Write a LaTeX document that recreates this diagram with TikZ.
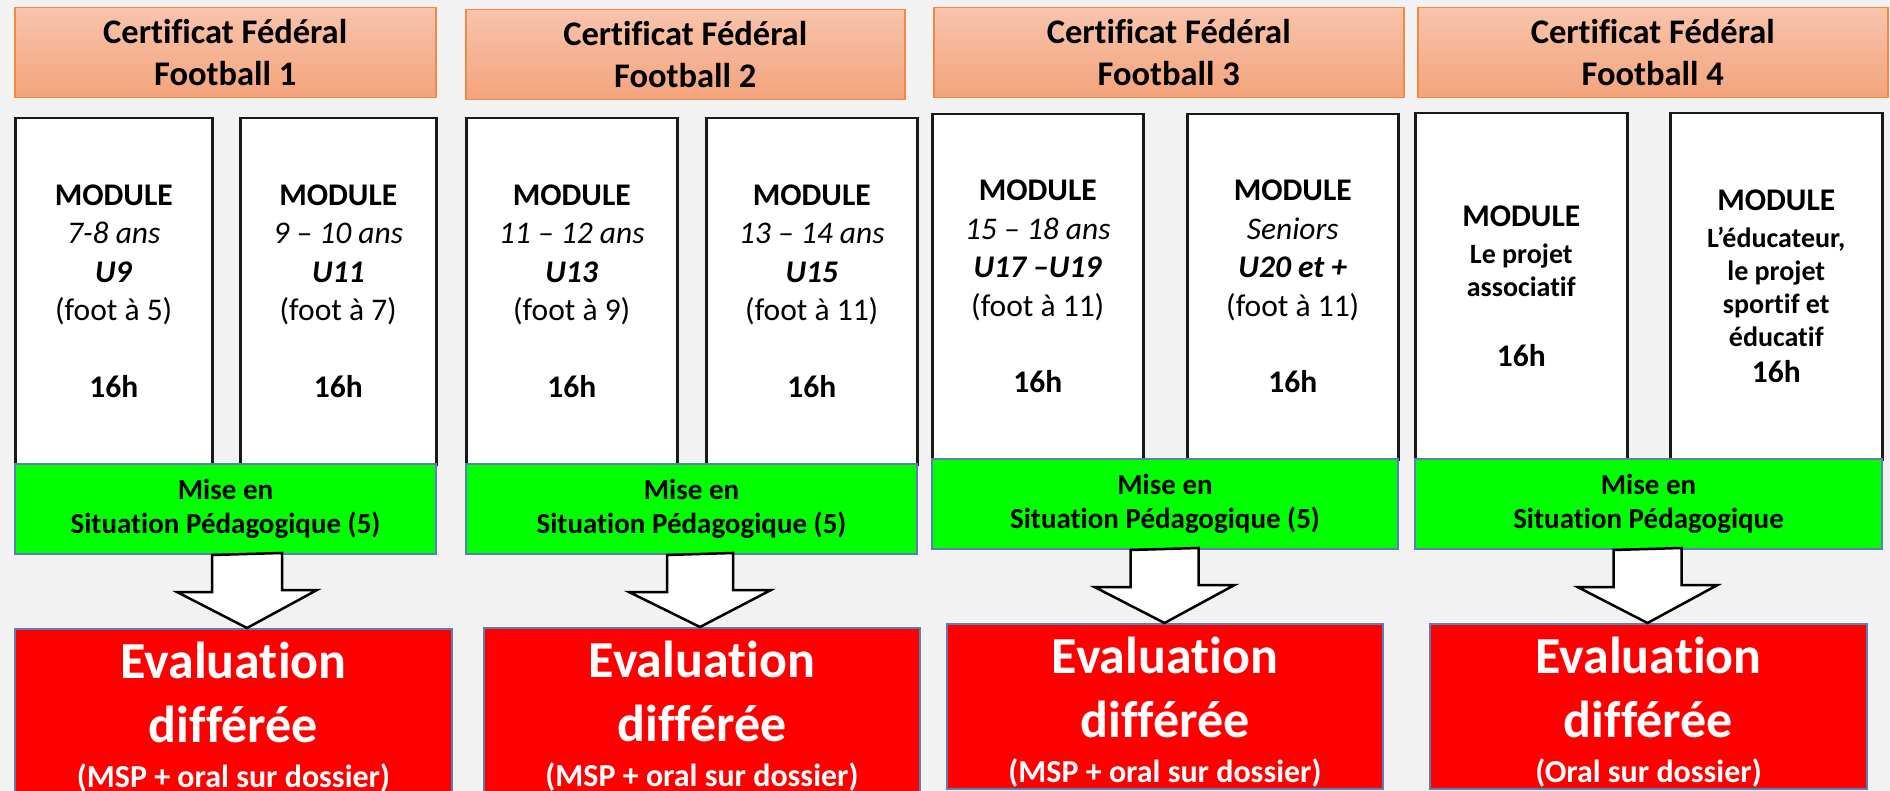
\documentclass[tikz,border=0pt]{standalone}
\usepackage{fontspec}
\setmainfont{Carlito}[Ligatures=NoCommon]
\usepackage{tikz}
\usetikzlibrary{positioning, calc}
\definecolor{fondColor}{HTML}{F2F2F2}
\definecolor{peachTopColor}{HTML}{F8C4AC}
\definecolor{peachBottomColor}{HTML}{F3A37B}
\definecolor{orangeLineColor}{HTML}{F08A42}
\definecolor{blueLineColor}{HTML}{5A7FB4}
\definecolor{mspGreenColor}{HTML}{00FF00}
\definecolor{evalRedColor}{HTML}{FF0000}
\tikzset{
  boite/.style = {rectangle, anchor=north west, inner sep=0pt, align=center},
  cffNode/.style = {boite, top color=peachTopColor, bottom color=peachBottomColor, draw=orangeLineColor, line width=1.5pt,
    minimum height=90pt, font=\bfseries\fontsize{34.5}{42}\selectfont},% titre du certificat
  moduleNode/.style = {boite, fill=white, draw=black!90, line width=2.5pt, font=\fontsize{31.5}{38.5}\selectfont},% module de 16h
  mspNode/.style = {boite, fill=mspGreenColor, draw=blueLineColor, line width=2pt, minimum height=90pt,
    font=\bfseries\fontsize{29}{34}\selectfont},% mise en situation
  evalNode/.style = {boite, fill=evalRedColor, draw=blueLineColor, line width=2pt, minimum height=165pt, text=white,
    font=\bfseries\fontsize{52}{64}\selectfont},% evaluation differee
  flecheBas/.style = {draw=black, fill=white, line width=2.5pt, line join=miter},% grosse fleche
}
\newcommand{\sousTitre}[1]{{\bfseries\fontsize{28}{32}\selectfont #1}}

\begin{document}
\begin{tikzpicture}[x=1pt, y=-1pt]
\useasboundingbox (0,0) rectangle (1890,791);
\fill[fondColor] (0,0) rectangle (1890,791);

% Football 1
\node[cffNode, minimum width=421pt] (cff1) at (14,7) {Certificat Fédéral\\Football 1};
\node[moduleNode, minimum width=197pt, minimum height=346pt] (mod1a) at (14,117)
  {\textbf{MODULE}\\ \textit{7-8 ans}\\ \textbf{\textit{U9}}\\ (foot à 5)\\[38pt] \textbf{16h}};
\node[moduleNode, minimum width=196pt, minimum height=346pt] (mod1b) at (239,117)
  {\textbf{MODULE}\\ \textit{9 – 10 ans}\\ \textbf{\textit{U11}}\\ (foot à 7)\\[38pt] \textbf{16h}};
\node[mspNode, minimum width=421pt] (msp1) at (14,463) {Mise en\\Situation Pédagogique (5)};
\node[evalNode, minimum width=437pt] (eval1) at (14,628)
  {\rule{0pt}{47pt}Evaluation\\différée\\[-19pt] {\fontsize{32}{34}\selectfont (MSP + oral sur dossier)}};

% Football 2
\node[cffNode, minimum width=439pt] (cff2) at (465,9) {Certificat Fédéral\\Football 2};
\node[moduleNode, minimum width=211pt, minimum height=346pt] (mod2a) at (465,117)
  {\textbf{MODULE}\\ \textit{11 – 12 ans}\\ \textbf{\textit{U13}}\\ (foot à 9)\\[38pt] \textbf{16h}};
\node[moduleNode, minimum width=211pt, minimum height=346pt] (mod2b) at (705,117)
  {\textbf{MODULE}\\ \textit{13 – 14 ans}\\ \textbf{\textit{U15}}\\ (foot à 11)\\[38pt] \textbf{16h}};
\node[mspNode, minimum width=451pt] (msp2) at (465,463) {Mise en\\Situation Pédagogique (5)};
\node[evalNode, minimum width=436pt] (eval2) at (483,627)
  {\rule{0pt}{47pt}Evaluation\\différée\\[-19pt] {\fontsize{32}{34}\selectfont (MSP + oral sur dossier)}};

% Football 3
\node[cffNode, minimum width=470pt] (cff3) at (933,7) {Certificat Fédéral\\Football 3};
\node[moduleNode, minimum width=211pt, minimum height=345pt] (mod3a) at (931,113)
  {\textbf{MODULE}\\ \textit{15 – 18 ans}\\ \textbf{\textit{U17 –U19}}\\ (foot à 11)\\[38pt] \textbf{16h}};
\node[moduleNode, minimum width=211pt, minimum height=345pt] (mod3b) at (1186,113)
  {\textbf{MODULE}\\ \textit{Seniors}\\ \textbf{\textit{U20 et +}}\\ (foot à 11)\\[38pt] \textbf{16h}};
\node[mspNode, minimum width=466pt] (msp3) at (931,458) {Mise en\\Situation Pédagogique (5)};
\node[evalNode, minimum width=436pt] (eval3) at (946,623)
  {\rule{0pt}{47pt}Evaluation\\différée\\[-19pt] {\fontsize{32}{34}\selectfont (MSP + oral sur dossier)}};

% Football 4
\node[cffNode, minimum width=470pt] (cff4) at (1417,7) {Certificat Fédéral\\Football 4};
\node[moduleNode, minimum width=212pt, minimum height=346pt, font=\fontsize{31.5}{33}\selectfont] (mod4a) at (1414,112)
  {\textbf{MODULE}\\[4pt] \sousTitre{Le projet}\\ \sousTitre{associatif}\\[37pt] \textbf{16h}};
\node[moduleNode, minimum width=212pt, minimum height=346pt, font=\fontsize{31.5}{33}\selectfont] (mod4b) at (1669,112)
  {\textbf{MODULE}\\[4pt] \sousTitre{L’éducateur,}\\ \sousTitre{le projet}\\ \sousTitre{sportif et}\\ \sousTitre{éducatif}\\[3pt] \textbf{16h}};
\node[mspNode, minimum width=467pt] (msp4) at (1414,458) {Mise en\\Situation Pédagogique};
\node[evalNode, minimum width=437pt] (eval4) at (1429,623)
  {\rule{0pt}{47pt}Evaluation\\différée\\[-19pt] {\fontsize{32}{34}\selectfont (Oral sur dossier)}};

% fleches
\coordinate (f1) at (247,0);
\coordinate (f2) at (700,0);
\coordinate (f3) at (1164.5,0);
\coordinate (f4) at (1647.5,0);
\draw[flecheBas] (msp1.south -| f1) ++(-35,0) -- ++(0,37) -- ++(-35,0) -- (eval1.north -| f1) -- ++(70,-38) -- ++(-35,0) -- ++(0,-37) -- cycle;
\draw[flecheBas] (msp2.south -| f2) ++(-33,0) -- ++(0,37) -- ++(-38,0) -- (eval2.north -| f2) -- ++(71,-37) -- ++(-38,0) -- ++(0,-37) -- cycle;
\draw[flecheBas] (msp3.south -| f3) ++(-34,0) -- ++(0,37) -- ++(-36,0) -- (eval3.north -| f3) -- ++(70,-38) -- ++(-36,0) -- ++(0,-37) -- cycle;
\draw[flecheBas] (msp4.south -| f4) ++(-34,0) -- ++(0,37) -- ++(-36,0) -- (eval4.north -| f4) -- ++(70,-38) -- ++(-36,0) -- ++(0,-37) -- cycle;
\end{tikzpicture}
\end{document}
